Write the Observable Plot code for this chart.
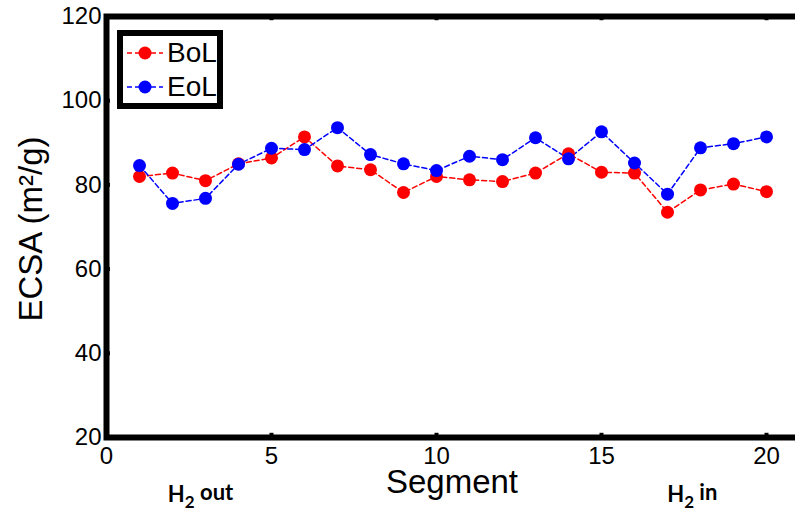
<!DOCTYPE html>
<html>
<head>
<meta charset="utf-8">
<script src="https://cdn.jsdelivr.net/npm/d3@7"></script>
<script src="https://cdn.jsdelivr.net/npm/@observablehq/plot@0.6"></script>
<style>
  html, body { margin: 0; padding: 0; background: #fff; overflow: hidden; }
  #wrap { position: relative; width: 795px; height: 510px; overflow: hidden; }
  #wrap > svg { max-width: none !important; width: 800px; height: 510px; }
  #legend { position: absolute; left: 117px; top: 30px; width: 94px; height: 67px;
    border: 6px solid #000; background: #fff; font-family: "Liberation Sans", Arial, sans-serif; }
  #legend .row { position: absolute; left: 0; height: 30px; display: flex; align-items: center; }
  #legend .row span { font-size: 28px; line-height: 30px; }
</style>
</head>
<body>
<div id="wrap"></div>
<script>
const segments = d3.range(1, 21);
const bol = [82, 82.8, 81, 85, 86.4, 91.4, 84.5, 83.6, 78.2, 82, 81.2, 80.8, 82.8, 87.4, 83, 82.8, 73.5, 78.8, 80.2, 78.4];
const eol = [84.6, 75.6, 76.8, 84.9, 88.7, 88.4, 93.6, 87.2, 85, 83.4, 86.8, 86, 91.2, 86.2, 92.6, 85.2, 77.8, 88.8, 89.8, 91.4];
const seriesNames = ["BoL", "EoL"];
const seriesColors = ["#ff0000", "#0000ff"];
const xTicks = [0, 5, 10, 15, 20];
const yTicks = [20, 40, 60, 80, 100, 120];
const xLabel = "Segment";
const yLabel = "ECSA (m²/g)";
const notes = ["H2 out", "H2 in"];
const notePos = [2.85, 17.75];

const rows = [];
segments.forEach((s, i) => {
  rows.push({segment: s, value: bol[i], series: seriesNames[0]});
});
segments.forEach((s, i) => {
  rows.push({segment: s, value: eol[i], series: seriesNames[1]});
});
const noteRows = notes.map((t, i) => ({text: t, x: notePos[i]}));

const font = "'Liberation Sans', Arial, sans-serif";

const chart = Plot.plot({
  width: 800,
  height: 510,
  marginLeft: 106,
  marginRight: 1,
  marginTop: 16,
  marginBottom: 73,
  style: {fontFamily: font, background: "#fff", color: "#000", overflow: "visible"},
  x: {domain: [0, 21]},
  y: {domain: [20, 120]},
  color: {domain: seriesNames, range: seriesColors},
  marks: [
    Plot.axisX({ticks: xTicks, tickSize: 0, tickPadding: 9, fontSize: 24, label: null, tickFormat: d => d}),
    Plot.axisY({ticks: yTicks, tickSize: 0, tickPadding: 5, fontSize: 24, label: null, tickFormat: d => d}),
    // inward tick stubs
    Plot.ruleX(xTicks.slice(1), {y1: 20, y2: 21, stroke: "#000", strokeWidth: 4}),
    Plot.ruleX(xTicks.slice(1), {y1: 120, y2: 119, stroke: "#000", strokeWidth: 4}),
    Plot.ruleY(yTicks.slice(1, -1), {x1: 0, x2: 0.12, stroke: "#000", strokeWidth: 4}),
    Plot.ruleY(yTicks.slice(1, -1), {x1: 21, x2: 20.88, stroke: "#000", strokeWidth: 4}),
    Plot.line(rows, {x: "segment", y: "value", z: "series", stroke: "series", strokeWidth: 1.5, strokeDasharray: "5,3"}),
    Plot.dot(rows, {x: "segment", y: "value", fill: "series", r: 6.5}),
    Plot.frame({stroke: "#000", strokeWidth: 6}),
    Plot.text([yLabel], {frameAnchor: "left", rotate: -90, dx: -75, dy: 2, fontSize: 33, textAnchor: "middle", lineAnchor: "middle"}),
    Plot.text([xLabel], {frameAnchor: "bottom", dx: -1, dy: 45, fontSize: 33, textAnchor: "middle", lineAnchor: "middle"}),
    Plot.text(noteRows, {x: "x", text: "text", frameAnchor: "bottom", dy: 57, fontSize: 22, fontWeight: "bold", fontFamily: "Lato, 'Open Sans', sans-serif", textAnchor: "middle", lineAnchor: "middle", className: "notes"})
  ]
});

// render subscript 2 in the H2 annotations
d3.select(chart).selectAll("g.notes text").each(function() {
  const t = this.textContent;
  const rest = t.slice(2);
  const sel = d3.select(this);
  sel.text(null);
  sel.append("tspan").text("H");
  sel.append("tspan").attr("dy", "0.35em").attr("font-size", "17").text("2");
  sel.append("tspan").attr("dy", "-0.35em").text(rest);
});

const wrap = document.getElementById("wrap");
wrap.appendChild(chart);

// legend
const legend = document.createElement("div");
legend.id = "legend";
seriesNames.forEach((name, i) => {
  const row = document.createElement("div");
  row.className = "row";
  row.style.top = (i === 0 ? 2 : 36) + "px";
  row.innerHTML = `<svg width="44" height="30"><line x1="4" x2="40" y1="15" y2="15" stroke="${seriesColors[i]}" stroke-width="1.5" stroke-dasharray="5,3"/><circle cx="22" cy="15" r="6.5" fill="${seriesColors[i]}"/></svg><span>${name}</span>`;
  legend.appendChild(row);
});
wrap.appendChild(legend);
</script>
</body>
</html>
